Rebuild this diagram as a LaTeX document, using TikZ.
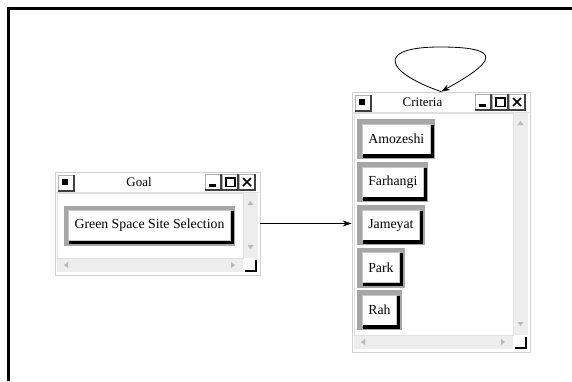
\documentclass[tikz,border=0pt]{standalone}
\usepackage{fontspec}
\setmainfont{Liberation Serif}
\usetikzlibrary{arrows.meta}
\tikzset{
  winbox/.style={draw=black!18, fill=white, inner sep=0, line width=0.8},
  sepline/.style={draw=black!12, line width=0.8},
  scrollbg/.style={fill=black!7},
  sarrow/.style={fill=black!28},
  titletext/.style={font=\fontsize{13}{15}\selectfont, inner sep=0},
  btn/.style={fill=white, draw=black!22, line width=0.6, inner xsep=6, inner ysep=0,
    minimum height=30, font=\fontsize{13.8}{16}\selectfont,
    preaction={draw=black!35, line width=10}},
  btnshadow/.style={draw=black, line width=3.2},
  conn/.style={-{Stealth[length=9,width=6]}, line width=0.8},
}
\newcommand\tbox[2]{%
  \fill[white] (#1,#2) rectangle (#1+16,#2+16);
  \draw[black!30,line width=0.8] (#1,#2+16) -- (#1,#2) -- (#1+16,#2);
  \draw[black!75,line width=1.3] (#1+16,#2) -- (#1+16,#2+16) -- (#1,#2+16);}
\newcommand\btnshade[1]{%
  \draw[btnshadow] ([xshift=1.6,yshift=-1]#1.north east) -- ([xshift=1.6,yshift=-1.6]#1.south east) -- ([xshift=1,yshift=-1.6]#1.south west);}
% #1 L, #2 T, #3 R, #4 B, #5 title, #6 name
\newcommand\appwin[6]{%
  \node[winbox, minimum width={(#3-#1)*1pt}, minimum height={(#4-#2)*1pt}] (#6) at ({(#1+#3)/2},{(#2+#4)/2}) {};
  \draw[sepline] (#1+1,#2+20) -- (#3-1,#2+20);
  % icon
  \tbox{#1+3}{#2+3}
  \fill (#1+6.5,#2+6.5) rectangle (#1+12.5,#2+12.5);
  % title
  \node[titletext] (#6-title) at ({(#1+18+#3-55)/2},#2+10.5) {#5};
  % title buttons
  \tbox{#3-55}{#2+2}
  \tbox{#3-38}{#2+2}
  \tbox{#3-21}{#2+2}
  \fill (#3-51,#2+12) rectangle (#3-44,#2+14.5);
  \draw[line width=1.2] (#3-34,#2+6) rectangle (#3-25,#2+14.5);
  \draw[line width=1.6] (#3-34,#2+5.5) -- (#3-25,#2+5.5);
  \draw[line width=1.5] (#3-17,#2+6) -- (#3-9,#2+14) (#3-9,#2+6) -- (#3-17,#2+14);
  % content area
  \draw[sepline] (#1+2,#2+21) rectangle (#3-17,#4-17);
  % vertical scroll
  \fill[scrollbg] (#3-16.5,#2+21) rectangle (#3-2,#4-17);
  \fill[sarrow] (#3-9.5,#2+29) -- (#3-12.5,#2+33) -- (#3-6.5,#2+33) -- cycle;
  \fill[sarrow] (#3-9.5,#4-26) -- (#3-12.5,#4-30) -- (#3-6.5,#4-30) -- cycle;
  % horizontal scroll
  \fill[scrollbg] (#1+2,#4-16.5) rectangle (#3-17,#4-3);
  \fill[sarrow] (#1+9,#4-10) -- (#1+13,#4-13) -- (#1+13,#4-7) -- cycle;
  \fill[sarrow] (#3-25,#4-10) -- (#3-29,#4-13) -- (#3-29,#4-7) -- cycle;
  % size grip
  \draw[line width=1.3] (#3-4,#4-15) -- (#3-4,#4-4) -- (#3-15,#4-4);
}
\begin{document}
\begin{tikzpicture}[x=1pt,y=-1pt]
\useasboundingbox (0,0) rectangle (572,381);
\fill[white] (0,0) rectangle (572,381);
\draw[line width=2.2] (8.5,381) -- (8.5,8.5) -- (572,8.5);

\appwin{55}{172}{260}{275}{Goal}{goal}
\appwin{352}{92}{530}{352}{Criteria}{crit}

% Goal button
\node[btn, minimum width=159] (gs) at (149.5,225.5) {Green Space Site Selection};
\btnshade{gs}

% Criteria buttons
\node[btn, anchor=west] (b1) at (362,139) {Amozeshi};
\node[btn, anchor=west] (b2) at (362,182) {Farhangi};
\node[btn, anchor=west] (b3) at (362,225) {Jameyat};
\node[btn, anchor=west] (b4) at (362,267.5) {Park};
\node[btn, anchor=west] (b5) at (362,310) {Rah};
\foreach \n in {b1,b2,b3,b4,b5} {\btnshade{\n}}

% connectors
\draw[conn] (goal.east) -- (crit.west |- goal.east);
\coordinate (looptop) at (440,47);
\draw[conn] (crit.north) .. controls (385,72) and (375,47) .. (looptop)
  .. controls (505,47) and (495,62) .. (crit.north);
\end{tikzpicture}
\end{document}
